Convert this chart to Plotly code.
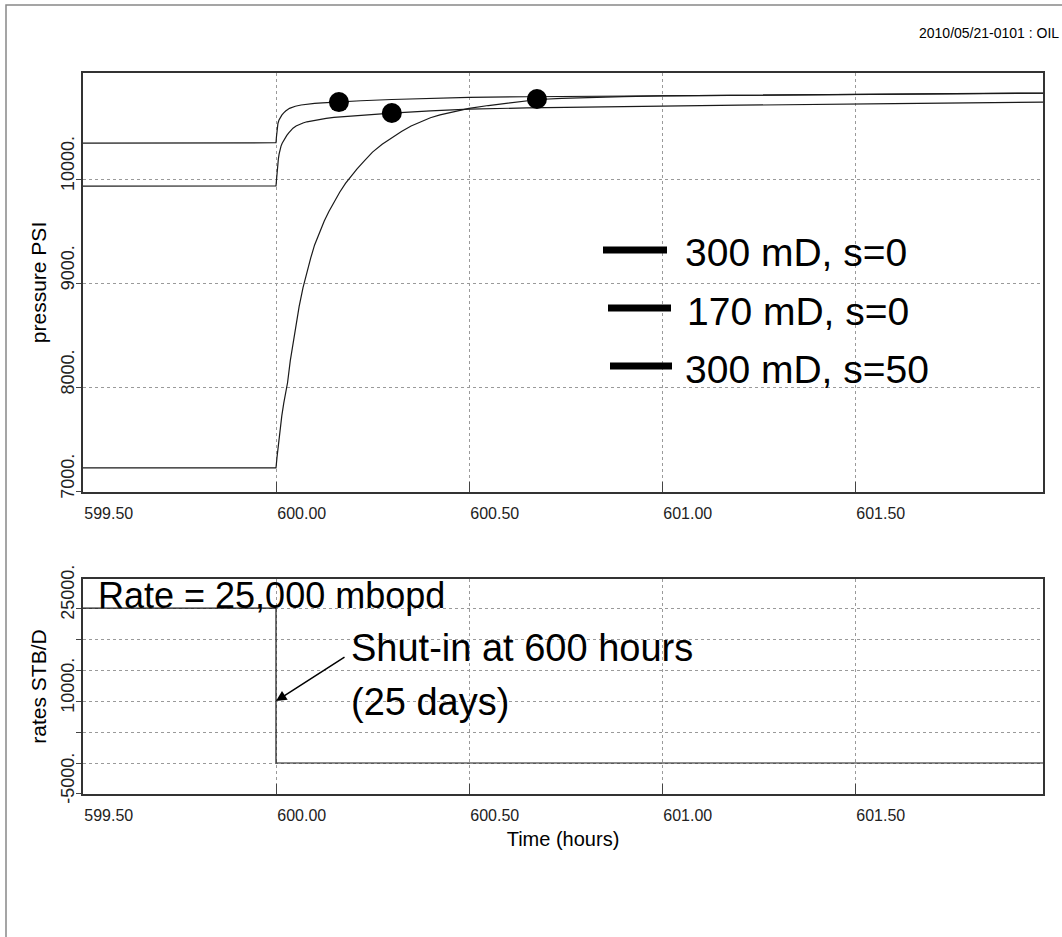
import plotly.graph_objects as go

# ---------------- data ----------------
time_a = [599.5, 600.0, 600.001, 600.002, 600.0035, 600.005, 600.0075, 600.01, 600.015, 600.02, 600.025,
          600.035, 600.05, 600.065, 600.08, 600.1, 600.12, 600.16, 600.22, 600.3, 600.4, 600.5,
          600.65, 600.8, 601.0, 601.2, 601.6, 601.99]
pres_a = [10346, 10350, 10400, 10450, 10500, 10535, 10565, 10585, 10615, 10637, 10655,
          10680, 10700, 10712, 10721, 10728, 10733, 10743, 10753, 10765, 10776, 10785,
          10791, 10795, 10800, 10805, 10815, 10827]

time_b = [599.5, 600.0, 600.001, 600.002, 600.003, 600.0045, 600.006, 600.008, 600.01, 600.013, 600.016,
          600.02, 600.023, 600.028, 600.033, 600.038, 600.044, 600.052, 600.06, 600.07, 600.08, 600.095,
          600.11, 600.13, 600.15, 600.2, 600.25, 600.3, 600.4, 600.5, 600.65, 600.79, 601.0, 601.2,
          601.6, 601.99]
pres_b = [9933, 9935, 9980, 10035, 10087, 10145, 10190, 10240, 10279, 10318, 10345,
          10373, 10394, 10420, 10445, 10468, 10490, 10510, 10525, 10539, 10551, 10563,
          10574, 10584, 10593, 10608, 10622, 10635, 10656, 10673, 10684, 10692, 10701, 10710,
          10725, 10740]

time_c = [599.5, 600.0, 600.0025, 600.005, 600.0075, 600.01, 600.015, 600.02, 600.025, 600.03, 600.037,
          600.045, 600.052, 600.06, 600.07, 600.08, 600.09, 600.1, 600.112, 600.125, 600.137,
          600.15, 600.165, 600.18, 600.195, 600.21, 600.23, 600.25, 600.275, 600.3, 600.325, 600.35,
          600.375, 600.4, 600.425, 600.45, 600.475, 600.5, 600.55, 600.6, 600.64, 600.68,
          600.74, 600.8, 600.9, 601.0, 601.25, 601.5, 601.75, 601.99]
pres_c = [7231, 7231, 7330, 7420, 7510, 7600, 7730, 7850, 7955, 8050, 8260,
          8450, 8620, 8780, 8960, 9110, 9245, 9370, 9490, 9600, 9690,
          9780, 9875, 9960, 10035, 10100, 10180, 10260, 10335, 10400, 10458, 10510,
          10553, 10590, 10617, 10640, 10661, 10680, 10707, 10730, 10748, 10765,
          10776, 10785, 10793, 10800, 10807, 10815, 10820, 10825]

dot_time = [600.163, 600.30, 600.676]
dot_pres = [10740, 10635, 10770]

rate_time = [599.5, 600.0, 600.0, 601.99]
rate_vals = [25000, 25000, 0, 0]

x_ticks = [599.5, 600.0, 600.5, 601.0, 601.5]
x_ticktext = ["599.50", "600.00", "600.50", "601.00", "601.50"]
p_ticks = [7000, 8000, 9000, 10000]
p_ticktext = ["7000.", "8000.", "9000.", "10000."]
q_ticks = [-5000, 0, 5000, 10000, 15000, 20000, 25000]
q_ticktext = ["-5000.", "", "", "10000.", "", "", "25000."]

legend_labels = ["300 mD, s=0", "170 mD, s=0", "300 mD, s=50"]

FONT = "Liberation Sans, Arial, sans-serif"
CURVE = "#1a1a1a"

fig = go.Figure()
for t, p in [(time_a, pres_a), (time_b, pres_b), (time_c, pres_c)]:
    fig.add_trace(go.Scatter(x=t, y=p, mode="lines", xaxis="x", yaxis="y",
                             line=dict(color=CURVE, width=1.2),
                             showlegend=False, hoverinfo="skip"))
fig.add_trace(go.Scatter(x=dot_time, y=dot_pres, mode="markers", xaxis="x", yaxis="y",
                         marker=dict(color="black", size=20), showlegend=False))
fig.add_trace(go.Scatter(x=rate_time, y=rate_vals, mode="lines", xaxis="x2", yaxis="y2",
                         line=dict(color=CURVE, width=1.2), showlegend=False))

axis_common = dict(showgrid=True, gridcolor="#9a9a9a", griddash="dot", gridwidth=1,
                   showline=True, linecolor="#333", linewidth=1.5, mirror=True,
                   zeroline=False)
xtickfont = dict(family=FONT, size=16, color="#222")
ytickfont = dict(family=FONT, size=18, color="#222")

xr = [599.5, 601.987]
fig.update_layout(
    width=1062, height=937,
    margin=dict(l=83, r=19, t=73, b=143),
    paper_bgcolor="white", plot_bgcolor="white",
    font=dict(family=FONT, color="black"),
    xaxis=dict(domain=[0, 1], anchor="y", range=xr, tickvals=x_ticks, ticktext=x_ticktext,
               ticks="inside", ticklen=10, tickcolor="#444", tickfont=xtickfont,
               ticklabelposition="outside right", ticklabelstandoff=6, **axis_common),
    yaxis=dict(domain=[0.4189, 1], anchor="x", range=[7000, 11019], tickvals=p_ticks,
               ticktext=p_ticktext, tickangle=-90, ticks="outside", ticklen=5, tickcolor="#444",
               ticklabelposition="outside top", tickfont=ytickfont,
               title=dict(text="pressure PSI", font=dict(family=FONT, size=21), standoff=6),
               **axis_common),
    xaxis2=dict(domain=[0, 1], anchor="y2", range=xr, tickvals=x_ticks, ticktext=x_ticktext,
                ticks="inside", ticklen=10, tickcolor="#444", tickfont=xtickfont,
                ticklabelposition="outside right", ticklabelstandoff=6,
                title=dict(text="Time (hours)", font=dict(family=FONT, size=20), standoff=9),
                **axis_common),
    yaxis2=dict(domain=[0, 0.2982], anchor="x2", range=[-5000, 29700], tickvals=q_ticks,
                ticktext=q_ticktext, tickangle=-90, ticks="outside", ticklen=5, tickcolor="#444",
                ticklabelposition="outside top", tickfont=ytickfont,
                title=dict(text="rates STB/D", font=dict(family=FONT, size=21), standoff=6),
                **axis_common),
)

def px_x(px):
    return (px - 83) / 960.0

def px_y(py):
    return (794 - py) / 721.0

shapes = []
# outer frame (left and top edges)
shapes.append(dict(type="path", xref="paper", yref="paper",
                   path=f"M {px_x(6)},{px_y(945)} L {px_x(6)},{px_y(5)} L {px_x(1070)},{px_y(5)}",
                   line=dict(color="#888", width=1.5)))
# legend bars
bar_rows = [(603, 667, 250), (608, 671, 308), (610, 672, 366)]
for x0, x1, yy in bar_rows:
    shapes.append(dict(type="line", xref="paper", yref="paper",
                       x0=px_x(x0), x1=px_x(x1), y0=px_y(yy), y1=px_y(yy),
                       line=dict(color="black", width=7)))
fig.update_layout(shapes=shapes)

ann = []
text_rows = [(683, 252), (685, 311), (683, 369)]
for (tx, ty), lab in zip(text_rows, legend_labels):
    ann.append(dict(text=lab, xref="paper", yref="paper", x=px_x(tx), y=px_y(ty),
                    xanchor="left", yanchor="middle", showarrow=False,
                    font=dict(family=FONT, size=39, color="black")))
ann.append(dict(text="Rate = 25,000 mbopd", xref="paper", yref="paper", x=px_x(96), y=px_y(595),
                xanchor="left", yanchor="middle", showarrow=False,
                font=dict(family=FONT, size=36, color="black")))
ann.append(dict(text="Shut-in at 600 hours", xref="paper", yref="paper", x=px_x(349), y=px_y(648),
                xanchor="left", yanchor="middle", showarrow=False,
                font=dict(family=FONT, size=38, color="black")))
ann.append(dict(text="(25 days)", xref="paper", yref="paper", x=px_x(349), y=px_y(702),
                xanchor="left", yanchor="middle", showarrow=False,
                font=dict(family=FONT, size=38, color="black")))
ann.append(dict(text="", xref="x2", yref="y2", x=600.0, y=10000, ax=70, ay=-45,
                showarrow=True, arrowhead=2, arrowsize=1.4, arrowwidth=1.5,
                arrowcolor="black", standoff=0))
ann.append(dict(text="2010/05/21-0101 : OIL", xref="paper", yref="paper",
                x=px_x(1061), y=px_y(33), xanchor="right", yanchor="middle", showarrow=False,
                font=dict(family=FONT, size=14, color="black")))
fig.update_layout(annotations=ann)

fig.write_html("out.html")
